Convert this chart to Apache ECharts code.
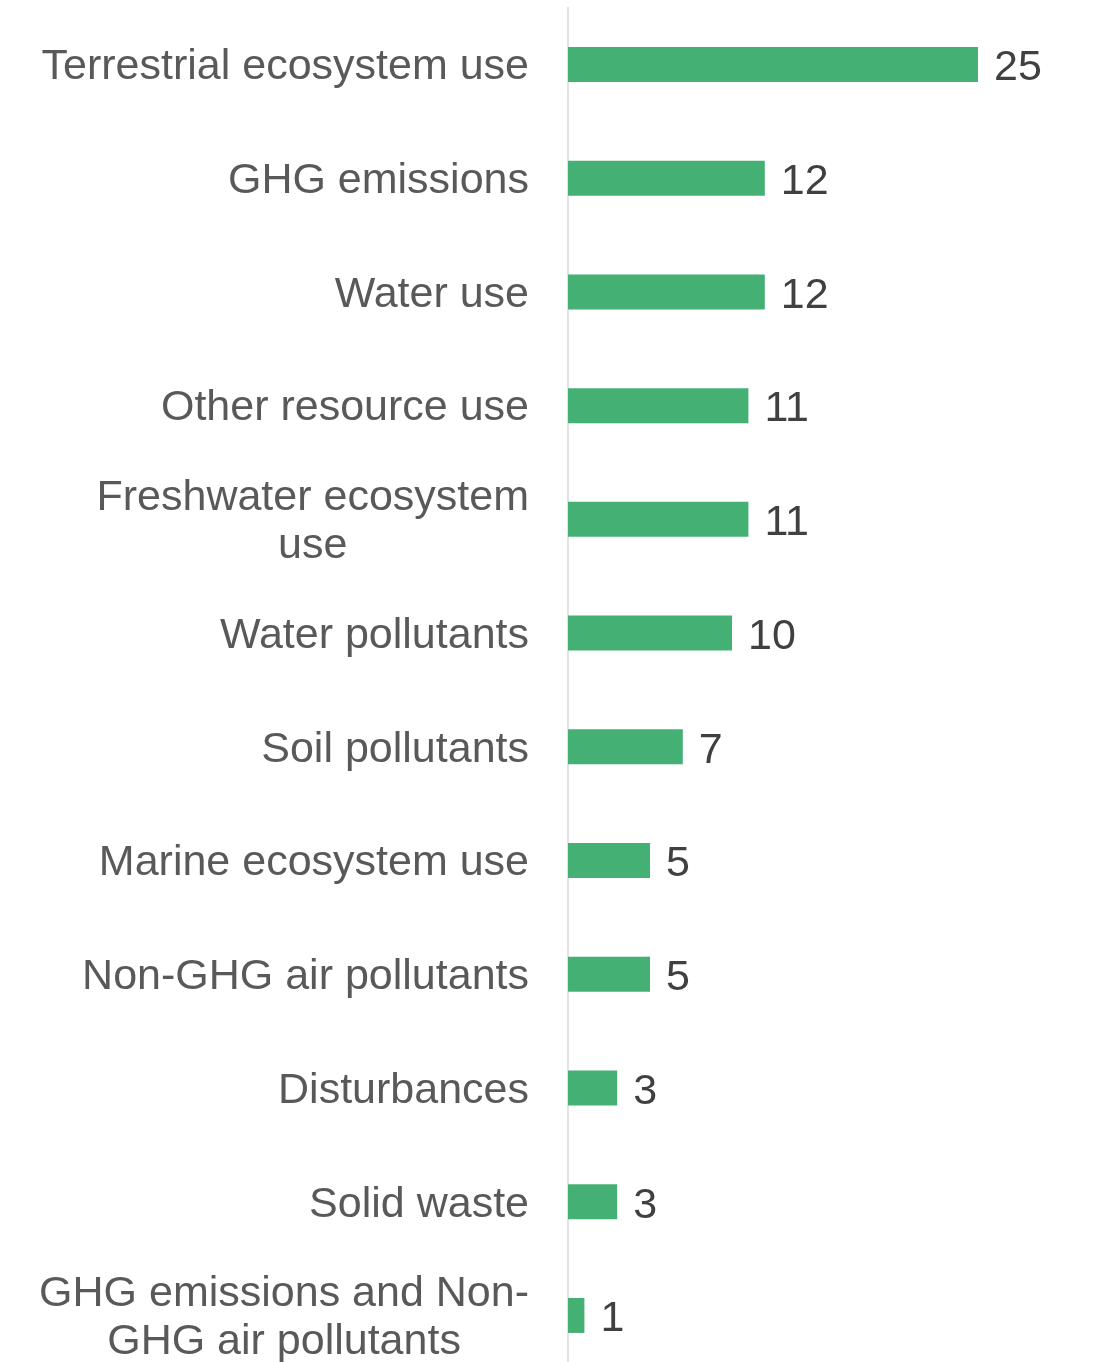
<!DOCTYPE html>
<html><head><meta charset="utf-8">
<style>html,body{margin:0;padding:0;background:#fff;overflow:hidden}#c{width:1094px;height:1380px}</style>
<script src="https://cdn.jsdelivr.net/npm/echarts@6/dist/echarts.min.js"></script>
</head><body><div id="c"></div>
<script>
const categories = [
  "Terrestrial ecosystem use",
  "GHG emissions",
  "Water use",
  "Other resource use",
  "Freshwater ecosystem\nuse",
  "Water pollutants",
  "Soil pollutants",
  "Marine ecosystem use",
  "Non-GHG air pollutants",
  "Disturbances",
  "Solid waste",
  "GHG emissions and Non-\nGHG air pollutants"
];
const values = [25, 12, 12, 11, 11, 10, 7, 5, 5, 3, 3, 1];

const chart = echarts.init(document.getElementById('c'), null, {renderer: 'canvas'});
chart.setOption({
  animation: false,
  backgroundColor: '#ffffff',
  grid: {left: 568, top: 7.6, width: 410, height: 1364.7, containLabel: false},
  xAxis: {type: 'value', min: 0, max: 25, show: false},
  yAxis: {
    type: 'category', data: categories, inverse: true,
    axisLine: {show: true, lineStyle: {color: '#d9d9d9', width: 1.5}},
    axisTick: {show: false},
    axisLabel: {
      margin: 39,
      padding: [6, 0, 0, 0],
      color: '#595959',
      fontFamily: 'Liberation Sans, Arial, sans-serif',
      fontSize: 43,
      lineHeight: 48,
      formatter: function (v) {
        return v.split('\n').map(function (s) { return '{c|' + s + '}'; }).join('\n');
      },
      rich: {c: {align: 'center', fontSize: 43, lineHeight: 48, color: '#595959', fontFamily: 'Liberation Sans, Arial, sans-serif'}}
    }
  },
  series: [{
    type: 'bar', data: values, barWidth: 35,
    itemStyle: {color: '#44b074'},
    label: {show: true, position: 'right', distance: 16, offset: [0, 4], color: '#404040',
      fontSize: 43, fontFamily: 'Liberation Sans, Arial, sans-serif'}
  }]
});
</script></body></html>
